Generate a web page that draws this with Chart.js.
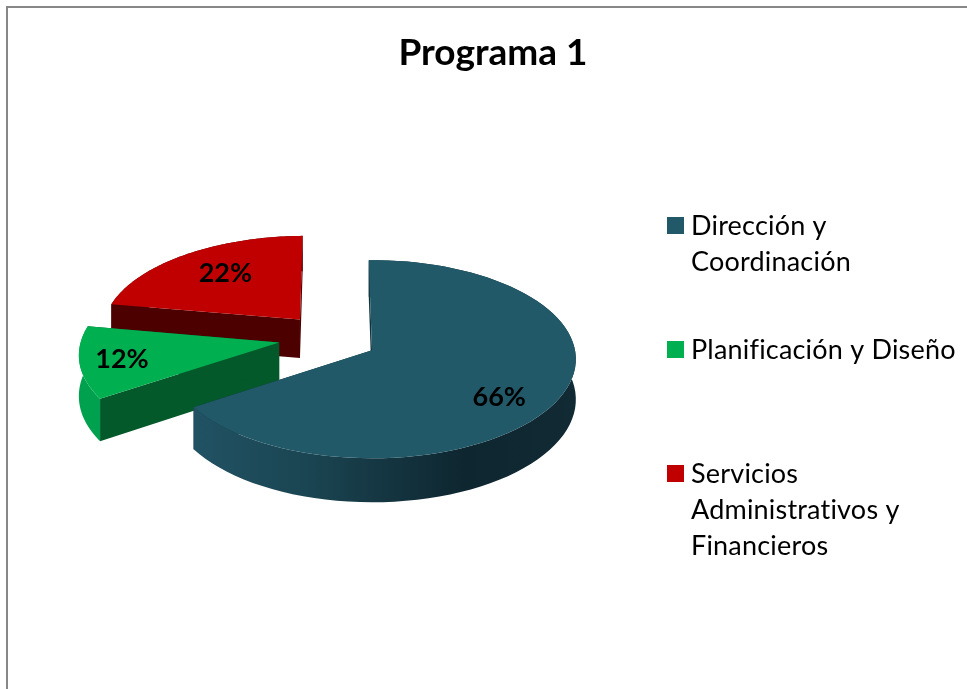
<!DOCTYPE html>
<html>
<head>
<meta charset="utf-8">
<title>Programa 1</title>
<script src="https://cdn.jsdelivr.net/npm/chart.js@4/dist/chart.umd.js"></script>
<style>
	html, body { margin: 0; padding: 0; background: #fff; overflow: hidden; width: 967px; height: 689px; }
	#frame { position: absolute; left: 6px; top: 6px; width: 972px; height: 690px; border-left: 2px solid #878787; border-top: 2px solid #878787; }
	canvas { display: block; }
</style>
</head>
<body>
<div id="frame"><canvas id="chart" width="970" height="681"></canvas></div>
<script>
const TITLE = 'Programa 1';
const LABELS = ['Dirección y Coordinación', 'Planificación y Diseño', 'Servicios Administrativos y Financieros'];
const LEGEND_LINES = [['Dirección y', 'Coordinación'], ['Planificación y Diseño'], ['Servicios', 'Administrativos y', 'Financieros']];
const VALUES = [66, 12, 22];

const TOP_COLORS = ['#215968', '#00b050', '#c00000'];
const FACE_COLORS = ['#12323c', '#04592a', '#4d0000'];
const FONT = 'Lato, "Open Sans", sans-serif';

// fake 3d view of the pie plane
const SQUASH = 0.484;
const PERSPECTIVE = 0.000448;
const DEPTH = 40;
const PIE_SHIFT_X = -121;
const EXPLODE = [0, 94, 115];
const SLICE_SHIFT = [0, -17, 10];
const SLICE_SIZE = [1, 0.97, 1];
const LABEL_RADIUS = [0.73, 0.8, 0.6];
const LABEL_NUDGE = [[-8, 13], [7, 0], [-4, -6]];
const PAINT_ORDER = [2, 1, 0];

function project(arc, i, px, py, drop) {
	const w = 1 - PERSPECTIVE * py;
	return {
		x: arc.x + PIE_SHIFT_X + px / w,
		y: arc.y + SLICE_SHIFT[i] + (py * SQUASH + (drop || 0)) / w
	};
}

function sliceGeometry(arc) {
	const mid = (arc.startAngle + arc.endAngle) / 2;
	const off = arc.options.offset;
	return { ox: Math.cos(mid) * off, oy: Math.sin(mid) * off, mid };
}

function rimPoints(arc, i, drop, reverse) {
	const g = sliceGeometry(arc);
	const r = arc.outerRadius * SLICE_SIZE[i];
	const pts = [];
	const steps = 80;
	for (let s = 0; s <= steps; s++) {
		const t = reverse ? 1 - s / steps : s / steps;
		const a = arc.startAngle + (arc.endAngle - arc.startAngle) * t;
		pts.push(project(arc, i, g.ox + Math.cos(a) * r, g.oy + Math.sin(a) * r, drop));
	}
	return pts;
}

function fillPoly(ctx, pts, fill) {
	ctx.beginPath();
	pts.forEach((p, n) => n ? ctx.lineTo(p.x, p.y) : ctx.moveTo(p.x, p.y));
	ctx.closePath();
	ctx.fillStyle = fill;
	ctx.fill();
}

function wallFill(ctx, arc, i) {
	// the outer wall gets darker going round the front, as in the picture
	if (i === 0) {
		const g = ctx.createLinearGradient(190, 0, 570, 0);
		g.addColorStop(0, '#215263');
		g.addColorStop(0.3, '#1a4451');
		g.addColorStop(0.7, '#0e2630');
		g.addColorStop(1, '#112a34');
		return g;
	}
	return i === 1 ? '#00a14e' : FACE_COLORS[2];
}

const pie3d = {
	id: 'pie3d',
	beforeDatasetsDraw(chart) {
		const ctx = chart.ctx;
		const arcs = chart.getDatasetMeta(0).data;
		PAINT_ORDER.forEach(i => {
			const arc = arcs[i];
			const g = sliceGeometry(arc);
			const apexTop = project(arc, i, g.ox, g.oy, 0);
			const apexLow = project(arc, i, g.ox, g.oy, DEPTH);
			const rimTop = rimPoints(arc, i, 0, false);
			const rimLow = rimPoints(arc, i, DEPTH, true);
			// cut faces
			[rimTop[0], rimTop[rimTop.length - 1]].forEach((p, n) => {
				const low = n ? rimLow[0] : rimLow[rimLow.length - 1];
				fillPoly(ctx, [apexTop, p, low, apexLow], FACE_COLORS[i]);
			});
			// outer wall
			fillPoly(ctx, rimTop.concat(rimLow), wallFill(ctx, arc, i));
			// top
			fillPoly(ctx, [apexTop].concat(rimTop), TOP_COLORS[i]);
		});
		return false;
	},
	afterDraw(chart) {
		const ctx = chart.ctx;
		const arcs = chart.getDatasetMeta(0).data;
		const total = VALUES.reduce((a, b) => a + b, 0);
		ctx.save();
		// percent labels
		ctx.fillStyle = '#000';
		ctx.font = 'bold 27px ' + FONT;
		ctx.textAlign = 'center';
		ctx.textBaseline = 'middle';
		arcs.forEach((arc, i) => {
			const g = sliceGeometry(arc);
			const r = arc.outerRadius * LABEL_RADIUS[i];
			const p = project(arc, i, g.ox + Math.cos(g.mid) * r, g.oy + Math.sin(g.mid) * r, 0);
			ctx.fillText(Math.round(VALUES[i] / total * 100) + '%', p.x + LABEL_NUDGE[i][0], p.y + LABEL_NUDGE[i][1]);
		});
		// legend, letter spacing also switches off the Lato ligatures
		ctx.font = '27px ' + FONT;
		ctx.letterSpacing = '0.2px';
		ctx.textAlign = 'left';
		ctx.textBaseline = 'alphabetic';
		LEGEND_LINES.forEach((lines, i) => {
			const top = 209 + i * 124;
			ctx.fillStyle = TOP_COLORS[i];
			ctx.fillRect(659, top, 17, 17);
			ctx.fillStyle = '#000';
			lines.forEach((line, n) => ctx.fillText(line, 683, top + 18 + n * 36));
		});
		ctx.restore();
	}
};

new Chart(document.getElementById('chart').getContext('2d'), {
	type: 'pie',
	data: {
		labels: LABELS,
		datasets: [{
			data: VALUES,
			backgroundColor: TOP_COLORS,
			borderWidth: 0,
			offset: EXPLODE
		}]
	},
	options: {
		responsive: false,
		animation: false,
		rotation: -1,
		radius: 203,
		layout: { padding: { bottom: 65 } },
		plugins: {
			legend: { display: false },
			tooltip: { enabled: false },
			title: {
				display: true,
				text: TITLE,
				color: '#000',
				font: { family: FONT, size: 37, weight: 'bold' },
				padding: { top: 23, bottom: 1 }
			}
		}
	},
	plugins: [pie3d]
});
</script>
</body>
</html>
